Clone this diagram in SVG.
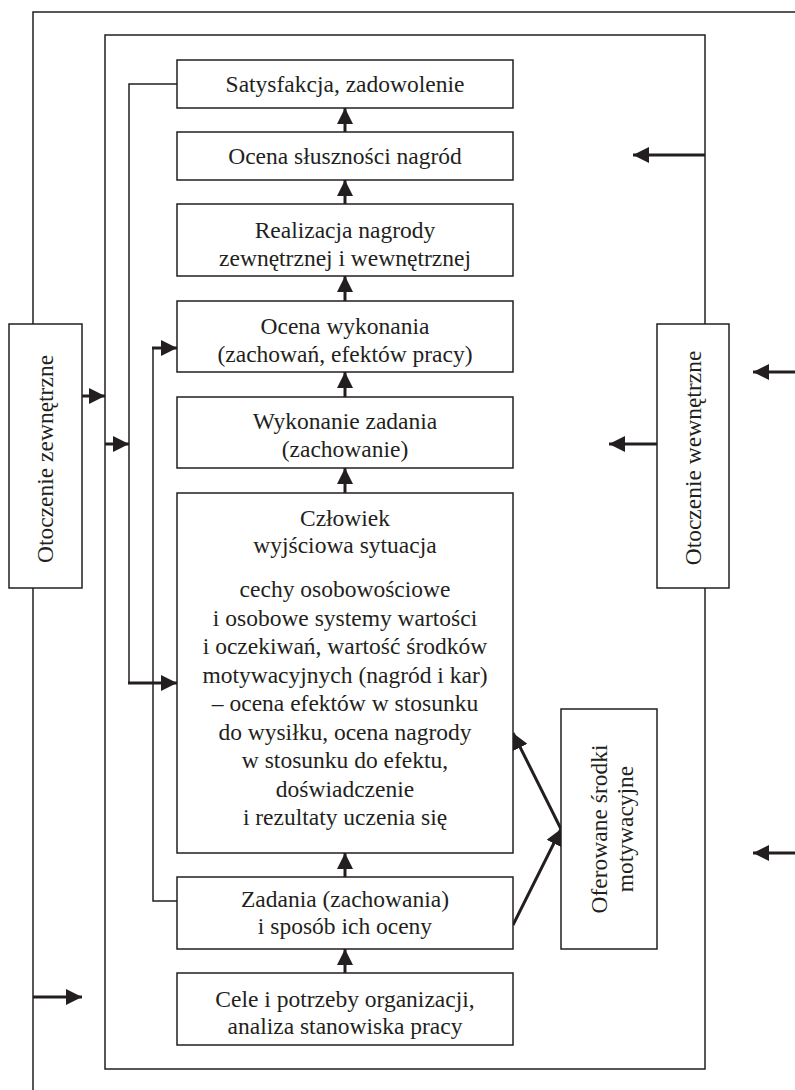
<svg xmlns="http://www.w3.org/2000/svg" width="795" height="1090" viewBox="0 0 795 1090">
<style>
.frame{fill:none;stroke:#231f20;stroke-width:1.5}
.box{fill:#fff;stroke:#231f20;stroke-width:1.5}
.ln{fill:none;stroke:#231f20;stroke-width:1.5}
.ar{fill:none;stroke:#231f20;stroke-width:3}
.t{font-family:"Liberation Serif","Times New Roman",serif;font-size:23.5px;fill:#231f20;text-anchor:middle}
</style>
<defs>
<marker id="ah" markerUnits="userSpaceOnUse" markerWidth="17" markerHeight="16" refX="16" refY="8" orient="auto">
<path d="M0,0 L16,8 L0,16 z" fill="#231f20"/>
</marker>
</defs>
<rect width="795" height="1090" fill="#fff"/>
<g id="frames">
<path class="frame" d="M795,12 H33 V1090"/>
<rect class="frame" x="105" y="35" width="600" height="1034"/>
</g>
<g id="connectors">
<path class="ln" d="M177,84 H129 V683"/>
<path class="ln" d="M177,901 H153 V348"/>
<line class="ar" x1="345" y1="132" x2="345" y2="108" marker-end="url(#ah)"/>
<line class="ar" x1="345" y1="204" x2="345" y2="180" marker-end="url(#ah)"/>
<line class="ar" x1="345" y1="301" x2="345" y2="276" marker-end="url(#ah)"/>
<line class="ar" x1="345" y1="397" x2="345" y2="372" marker-end="url(#ah)"/>
<line class="ar" x1="345" y1="493" x2="345" y2="468" marker-end="url(#ah)"/>
<line class="ar" x1="345" y1="877" x2="345" y2="853" marker-end="url(#ah)"/>
<line class="ar" x1="345" y1="973" x2="345" y2="949" marker-end="url(#ah)"/>
<line class="ar" x1="152" y1="348" x2="177" y2="348" marker-end="url(#ah)"/>
<line class="ar" x1="128" y1="683" x2="177" y2="683" marker-end="url(#ah)"/>
<line class="ar" x1="82" y1="396" x2="105" y2="396" marker-end="url(#ah)"/>
<line class="ar" x1="105" y1="444" x2="129" y2="444" marker-end="url(#ah)"/>
<line class="ar" x1="33" y1="997" x2="82" y2="997" marker-end="url(#ah)"/>
<line class="ar" x1="705" y1="155" x2="633" y2="155" marker-end="url(#ah)"/>
<line class="ar" x1="657" y1="444" x2="609" y2="444" marker-end="url(#ah)"/>
<line class="ar" x1="795" y1="372" x2="753" y2="372" marker-end="url(#ah)"/>
<line class="ar" x1="795" y1="853" x2="753" y2="853" marker-end="url(#ah)"/>
<line class="ar" x1="561" y1="829" x2="513" y2="733" marker-end="url(#ah)"/>
<line class="ar" x1="513" y1="925" x2="561" y2="829" marker-end="url(#ah)"/>
</g>
<g id="satysfakcja"><rect class="box" x="177" y="60" width="336" height="48"/><text class="t" x="345" y="92">Satysfakcja, zadowolenie</text></g>
<g id="ocena-slusznosci"><rect class="box" x="177" y="132" width="336" height="48"/><text class="t" x="345" y="164">Ocena słuszności nagród</text></g>
<g id="realizacja"><rect class="box" x="177" y="204" width="336" height="72"/><text class="t" x="345" y="238">Realizacja nagrody</text><text class="t" x="345" y="266">zewnętrznej i wewnętrznej</text></g>
<g id="ocena-wykonania"><rect class="box" x="177" y="301" width="336" height="71"/><text class="t" x="345" y="334">Ocena wykonania</text><text class="t" x="345" y="362">(zachowań, efektów pracy)</text></g>
<g id="wykonanie"><rect class="box" x="177" y="397" width="336" height="71"/><text class="t" x="345" y="429">Wykonanie zadania</text><text class="t" x="345" y="457">(zachowanie)</text></g>
<g id="czlowiek"><rect class="box" x="177" y="493" width="336" height="360"/>
<text class="t" x="345" y="526">Człowiek</text>
<text class="t" x="345" y="553">wyjściowa sytuacja</text>
<text class="t" x="345" y="597">cechy osobowościowe</text>
<text class="t" x="345" y="626">i osobowe systemy wartości</text>
<text class="t" x="345" y="654">i oczekiwań, wartość środków</text>
<text class="t" x="345" y="683">motywacyjnych (nagród i kar)</text>
<text class="t" x="345" y="711">– ocena efektów w stosunku</text>
<text class="t" x="345" y="740">do wysiłku, ocena nagrody</text>
<text class="t" x="345" y="768">w stosunku do efektu,</text>
<text class="t" x="345" y="797">doświadczenie</text>
<text class="t" x="345" y="825">i rezultaty uczenia się</text>
</g>
<g id="zadania"><rect class="box" x="177" y="877" width="336" height="72"/><text class="t" x="345" y="907">Zadania (zachowania)</text><text class="t" x="345" y="934">i sposób ich oceny</text></g>
<g id="cele"><rect class="box" x="177" y="973" width="336" height="72"/><text class="t" x="345" y="1007">Cele i potrzeby organizacji,</text><text class="t" x="345" y="1034">analiza stanowiska pracy</text></g>
<g id="oferowane"><rect class="box" x="561" y="709" width="96" height="240"/>
<text class="t" transform="translate(607,829) rotate(-90)">Oferowane środki</text>
<text class="t" transform="translate(633,829) rotate(-90)">motywacyjne</text>
</g>
<g id="otoczenie-zewnetrzne"><rect class="box" x="9" y="324" width="73" height="264"/><text class="t" transform="translate(53,459) rotate(-90)">Otoczenie zewnętrzne</text></g>
<g id="otoczenie-wewnetrzne"><rect class="box" x="657" y="324" width="72" height="264"/><text class="t" transform="translate(701,458) rotate(-90)">Otoczenie wewnętrzne</text></g>
</svg>
